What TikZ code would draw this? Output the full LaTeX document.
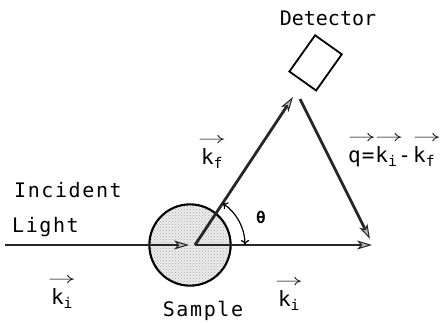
\documentclass[tikz,border=0pt]{standalone}
\usepackage{fontspec}
\setmainfont{DejaVu Sans Mono}
\usepackage{graphicx}
\usetikzlibrary{arrows.meta,patterns}
\newcommand{\arrsym}{\scalebox{1.35}[0.75]{$\rightarrow$}}
\newcommand{\ovarr}[1]{\begin{tabular}[b]{@{}c@{}}\makebox[0pt][c]{\arrsym}\\[-2pt]#1\end{tabular}}
\newcommand{\ovarrl}[1]{\begin{tabular}[b]{@{}l@{}}\makebox[0pt][l]{\arrsym}\\[-2pt]#1\end{tabular}}
\tikzset{
  lbl/.style={inner sep=0pt, font=\fontsize{20}{22}\selectfont\addfontfeature{LetterSpace=8}},
  dlbl/.style={inner sep=0pt, font=\fontsize{20}{22}\selectfont},
  vlbl/.style={inner sep=0pt, font=\fontsize{21}{23}\selectfont},
  beam/.style={line width=2.8pt, draw=black!85,
    -{Stealth[length=15pt,width=9pt,inset=4pt,fill=gray!55,line width=1pt]}},
}
\begin{document}
\begin{tikzpicture}[x=1pt,y=-1pt]
\useasboundingbox (0,0) rectangle (440,322);
% sample
\node[circle, draw, line width=1.4pt, fill=gray!14, minimum size=82pt, inner sep=0pt] (sample) at (190,245) {};
\fill[pattern=crosshatch dots, pattern color=gray!70] (sample.center) circle[radius=40pt];
\draw[line width=1.4pt] (sample.center) circle[radius=40.3pt];
% detector
\node[draw, line width=1.8pt, minimum width=32.8pt, minimum height=44.4pt, rotate=-35.4, inner sep=0pt] (det) at (315.6,62.9) {};
% coordinates
\coordinate (src) at (5,245);
\coordinate (hit) at (189,245);
\coordinate (o) at (195,245);
\coordinate (end) at (372,245);
\coordinate (dtop) at (293,97);
\coordinate (dout) at (300,99);
\coordinate (qend) at (370,239);
% beams
\draw[beam] (src) -- (hit);
\draw[beam] (o) -- (end);
\draw[beam] (o) -- (dtop);
\draw[beam] (dout) -- (qend);
% angle
\draw[line width=1.2pt, {To[length=5pt,width=8pt]}-{To[length=5pt,width=8pt]}] (o) ++(50,0) arc[start angle=0, end angle=-56.5, radius=50];
% labels
\node[dlbl] (dettxt) at (328,18) {Detector};
\node[lbl, anchor=west] (inc) at (14,190) {Incident};
\node[lbl, anchor=west] (light) at (12,227) {Light};
\node[lbl] (samp) at (203,311) {Sample};
\node[font=\bfseries\fontsize{16}{18}\selectfont, inner sep=0pt] (theta) at (261,217) {θ};
\node[vlbl] (kf) at (212,149) {\ovarr{k\textsubscript{f}}};
\node[vlbl] (ki1) at (62,289) {\ovarr{k\textsubscript{i}}};
\node[vlbl] (ki2) at (289,291) {\ovarr{k\textsubscript{i}}};
\node[vlbl, anchor=west] (qeq) at (348,147) {\ovarrl{q}\kern1pt=\kern1pt\ovarrl{k\textsubscript{i}}\kern1pt-\kern2pt\ovarrl{k\textsubscript{f}}};
\end{tikzpicture}
\end{document}
